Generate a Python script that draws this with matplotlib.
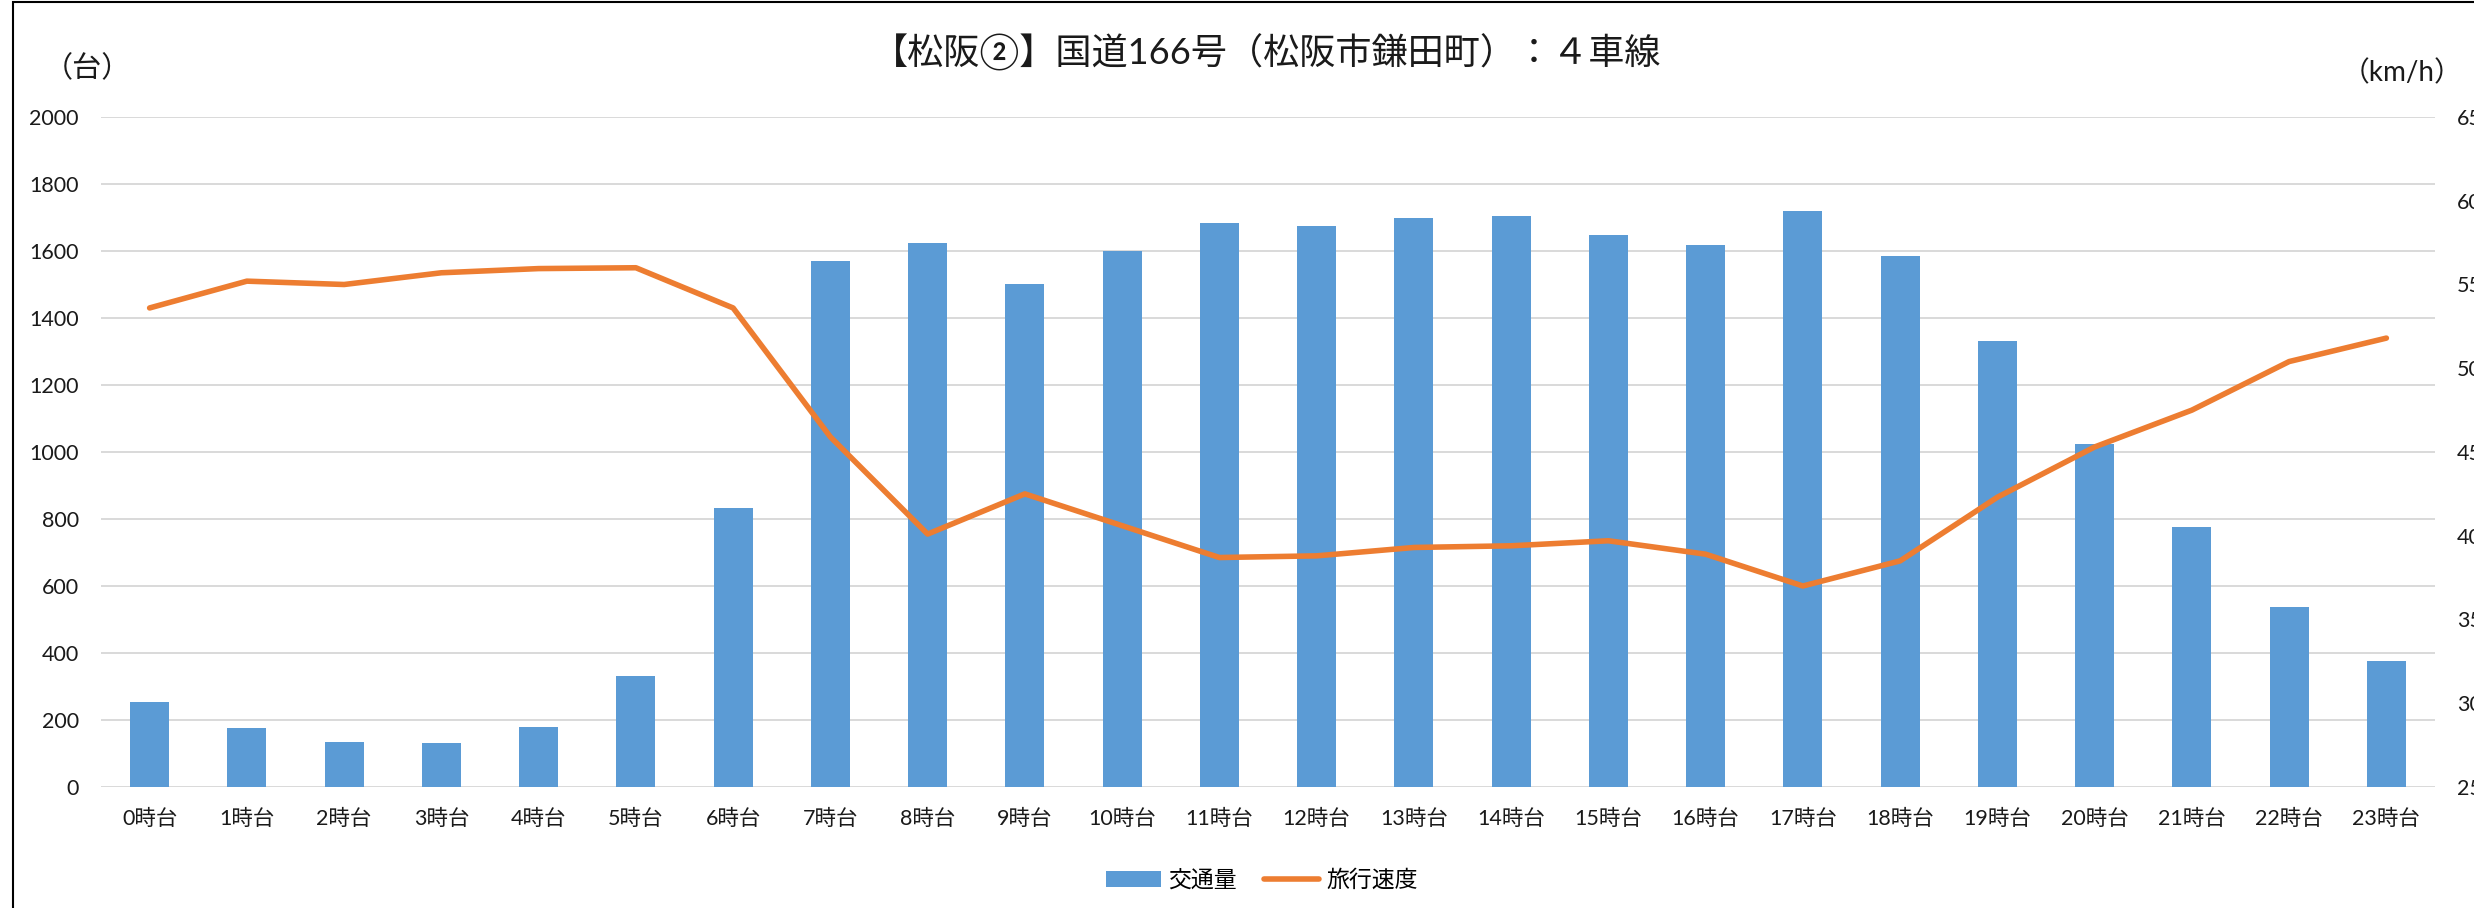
import matplotlib
matplotlib.use('Agg')
import matplotlib.pyplot as plt
import numpy as np
from matplotlib.patches import Rectangle

plt.rcParams['font.family'] = ['Lato', 'Noto Sans CJK JP', 'DejaVu Sans']

hours = [f'{h}時台' for h in range(24)]
# 交通量 (台)
traffic = [253, 177, 135, 131, 179, 332, 833, 1569, 1625, 1501, 1601, 1685,
           1676, 1700, 1705, 1648, 1618, 1718, 1586, 1331, 1025, 775, 537, 375]
# 旅行速度 (km/h)
speed = [53.6, 55.2, 55.0, 55.7, 55.95, 56.0, 53.6, 45.9, 40.1, 42.5, 40.6, 38.7,
         38.8, 39.3, 39.4, 39.7, 38.9, 37.0, 38.5, 42.3, 45.3, 47.5, 50.4, 51.8]

title = '【松阪②】国道166号（松阪市鎌田町）：４車線'

W, H = 2474, 908
fig = plt.figure(figsize=(W / 100, H / 100), dpi=100)
ax = fig.add_axes([101 / W, 1 - 787 / H, (2435 - 101) / W, (787 - 117) / H])
ax2 = ax.twinx()

x = np.arange(len(hours))
bars = ax.bar(x, traffic, width=0.4, color='#5B9BD5', zorder=3, label='交通量')
line, = ax2.plot(x, speed, color='#ED7D31', linewidth=4, solid_capstyle='round',
                 label='旅行速度')

ax.set_xlim(-0.5, len(hours) - 0.5)
ax.set_ylim(0, 2000)
ax.set_yticks(np.arange(0, 2001, 200))
ax2.set_ylim(25, 65)
ax2.set_yticks(np.arange(25, 66, 5))

ax.set_xticks(x)
ax.set_xticklabels(hours)
ax.grid(axis='y', color='#D9D9D9', linewidth=1.4, zorder=0)
ax.set_axisbelow(True)

for a in (ax, ax2):
    for s in a.spines.values():
        s.set_visible(False)
ax.tick_params(axis='y', length=0, pad=16, labelsize=15.5, labelcolor='#1a1a1a')
ax.tick_params(axis='x', length=0, pad=16, labelsize=15.5, labelcolor='#1a1a1a')
ax2.tick_params(axis='y', length=0, pad=16, labelsize=15.5, labelcolor='#1a1a1a')

fig.text(1267 / W, 1 - 52 / H, title, ha='center', va='center', fontsize=26, color='#1a1a1a')
fig.text(87 / W, 1 - 68 / H, '（台）', ha='center', va='center', fontsize=21, color='#1a1a1a')
fig.text(2462 / W, 1 - 73 / H, '（km/h）', ha='right', va='center', fontsize=20, color='#1a1a1a')

fig.legend([bars, line], ['交通量', '旅行速度'], loc='center',
           bbox_to_anchor=(1262 / W, 1 - 880 / H), ncol=2, frameon=False,
           fontsize=16.5, handlelength=2.4, handletextpad=0.3, columnspacing=1.2)

# outer chart border (left/top visible, rest cropped)
fig.add_artist(Rectangle((13 / W, -0.05), 1.1, 1 - 2 / H + 0.05, transform=fig.transFigure,
                         fill=False, edgecolor='black', linewidth=1.5, clip_on=False))

fig.savefig('out.png', dpi=100)
